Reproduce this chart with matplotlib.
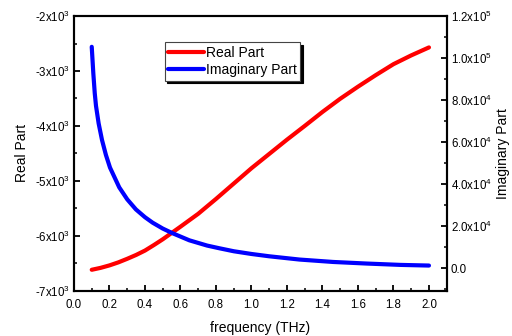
import matplotlib
matplotlib.use('Agg')
import matplotlib.pyplot as plt
from matplotlib.ticker import FixedLocator, MultipleLocator, FixedFormatter, FormatStrFormatter

plt.rcParams['font.family'] = ['Liberation Sans', 'DejaVu Sans']
plt.rcParams['mathtext.fontset'] = 'custom'
plt.rcParams['mathtext.rm'] = 'Liberation Sans'
plt.rcParams['mathtext.it'] = 'Liberation Sans'

# data
freq_real = [0.1, 0.15, 0.2, 0.25, 0.3, 0.35, 0.4, 0.45, 0.5, 0.55, 0.6, 0.7, 0.8, 0.9, 1.0,
             1.1, 1.2, 1.3, 1.4, 1.5, 1.6, 1.7, 1.8, 1.9, 2.0]
real_part = [-6620, -6585, -6540, -6485, -6420, -6350, -6270, -6170, -6065, -5950, -5835,
             -5600, -5330, -5050, -4770, -4510, -4250, -4000, -3745, -3505, -3285, -3075,
             -2875, -2715, -2570]

freq_imag = [0.1, 0.109, 0.117, 0.124, 0.139, 0.158, 0.18, 0.203, 0.255, 0.3, 0.349, 0.4,
             0.443, 0.5, 0.556, 0.65, 0.75, 0.82, 0.9, 1.0, 1.1, 1.27, 1.46, 1.65, 1.84, 2.0]
imag_part = [105400, 92700, 83300, 77300, 68900, 61000, 53900, 47900, 38500, 32800, 28000,
             24300, 21700, 18900, 16650, 13300, 10800, 9500, 8100, 6800, 5700, 4150, 3000,
             2240, 1600, 1290]

left_ticks = [-7000, -6000, -5000, -4000, -3000, -2000]
left_labels = ['-7x10$^3$', '-6x10$^3$', '-5x10$^3$', '-4x10$^3$', '-3x10$^3$', '-2x10$^3$']
right_ticks = [0, 20000, 40000, 60000, 80000, 100000, 120000]
right_labels = ['0.0', '2.0x10$^4$', '4.0x10$^4$', '6.0x10$^4$', '8.0x10$^4$',
                '1.0x10$^5$', '1.2x10$^5$']

fig = plt.figure(figsize=(5.12, 3.36), dpi=100)
ax = fig.add_axes([0.1445, 0.135, 0.728, 0.817])
ax2 = ax.twinx()

l1, = ax.plot(freq_real, real_part, color='#ff0000', lw=3, label='Real Part',
              solid_capstyle='round', solid_joinstyle='round')
l2, = ax2.plot(freq_imag, imag_part, color='#0000ff', lw=3, label='Imaginary Part',
               solid_capstyle='round', solid_joinstyle='round')

ax.set_xlim(0, 2.1)
ax.set_ylim(-7000, -2000)
ax2.set_ylim(-10650, 120000)

ax.xaxis.set_major_locator(MultipleLocator(0.2))
ax.xaxis.set_minor_locator(MultipleLocator(0.1))
ax.xaxis.set_major_formatter(FormatStrFormatter('%.1f'))
ax.yaxis.set_major_locator(FixedLocator(left_ticks))
ax.yaxis.set_major_formatter(FixedFormatter(left_labels))
ax.yaxis.set_minor_locator(MultipleLocator(500))
ax2.yaxis.set_major_locator(FixedLocator(right_ticks))
ax2.yaxis.set_major_formatter(FixedFormatter(right_labels))
ax2.yaxis.set_minor_locator(MultipleLocator(10000))

for a in (ax, ax2):
    a.tick_params(which='major', direction='in', length=4, width=1.3, labelsize=8.3, pad=3)
    a.tick_params(which='minor', direction='in', length=2.5, width=1.1)
    for s in a.spines.values():
        s.set_linewidth(1.5)
ax.tick_params(axis='x', pad=6)
ax.tick_params(top=False, which='both')

ax.set_xlabel('frequency (THz)', fontsize=10, labelpad=7)
ax.set_ylabel('Real Part', fontsize=10, labelpad=4)
ax2.set_ylabel('Imaginary Part', fontsize=10, labelpad=3)

leg = ax2.legend(handles=[l1, l2], loc='upper left', bbox_to_anchor=(0.243, 0.905),
                 frameon=True, fancybox=False, shadow={'color': 'k', 'alpha': 1},
                 edgecolor='#444444', fontsize=10, handlelength=2.6, handletextpad=0.1,
                 borderpad=0.25, labelspacing=0.25, borderaxespad=0)
leg.get_frame().set_linewidth(0.8)

fig.savefig('out.png', dpi=100)
